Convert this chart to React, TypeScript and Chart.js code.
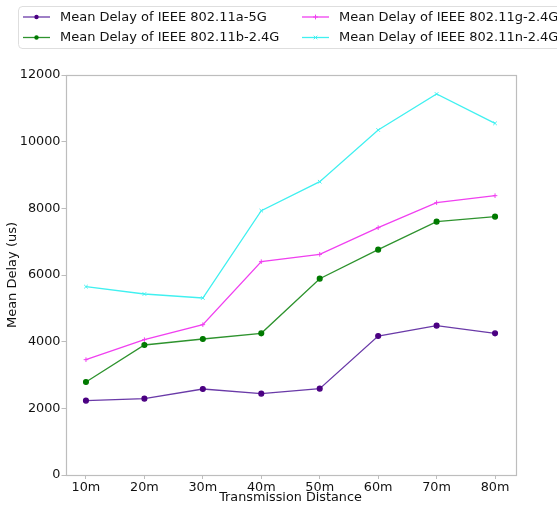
import React, { useEffect, useRef } from "react";
import { Chart, registerables } from "chart.js";

Chart.register(...registerables);

const categories = ["10m", "20m", "30m", "40m", "50m", "60m", "70m", "80m"];
const delayA5G = [2230, 2290, 2580, 2440, 2590, 4170, 4480, 4250];
const delayB24G = [2790, 3900, 4080, 4250, 5890, 6760, 7600, 7750];
const delayG24G = [3460, 4060, 4510, 6400, 6620, 7420, 8170, 8380];
const delayN24G = [5650, 5430, 5310, 7930, 8800, 10350, 11430, 10550];
const seriesLabels = [
  "Mean Delay of IEEE 802.11a-5G",
  "Mean Delay of IEEE 802.11b-2.4G",
  "Mean Delay of IEEE 802.11g-2.4G",
  "Mean Delay of IEEE 802.11n-2.4G",
];
const yTickValues = [0, 2000, 4000, 6000, 8000, 10000, 12000];
const xAxisTitle = "Transmission Distance";
const yAxisTitle = "Mean Delay (us)";

const FONT = "'DejaVu Sans', sans-serif";

function drawMarker(ctx: CanvasRenderingContext2D, style: string, x: number, y: number, r: number, color: string) {
  ctx.save();
  ctx.fillStyle = color;
  ctx.strokeStyle = color;
  ctx.lineWidth = 1;
  ctx.beginPath();
  if (style === "circle") {
    ctx.arc(x, y, r, 0, Math.PI * 2);
    ctx.fill();
  } else if (style === "cross") {
    ctx.moveTo(x - r, y);
    ctx.lineTo(x + r, y);
    ctx.moveTo(x, y - r);
    ctx.lineTo(x, y + r);
    ctx.stroke();
  } else {
    ctx.moveTo(x - r * 0.75, y - r * 0.75);
    ctx.lineTo(x + r * 0.75, y + r * 0.75);
    ctx.moveTo(x - r * 0.75, y + r * 0.75);
    ctx.lineTo(x + r * 0.75, y - r * 0.75);
    ctx.stroke();
  }
  ctx.restore();
}

const framePlugin = {
  id: "frameAndLegend",
  afterDraw(chart: any) {
    const ctx: CanvasRenderingContext2D = chart.ctx;
    const a = chart.chartArea;
    ctx.save();
    ctx.strokeStyle = "#bdbdbd";
    ctx.lineWidth = 1.2;
    ctx.strokeRect(Math.round(a.left) + 0.5, Math.round(a.top) + 0.5, Math.round(a.right - a.left), Math.round(a.bottom - a.top));

    // legend frame
    const bx = 18, by = 6, bw = 600, bh = 42, rr = 4;
    ctx.strokeStyle = "#dedede";
    ctx.lineWidth = 1;
    ctx.beginPath();
    ctx.moveTo(bx + rr, by + 0.5);
    ctx.lineTo(bx + bw, by + 0.5);
    ctx.moveTo(bx + rr, by + bh + 0.5);
    ctx.lineTo(bx + bw, by + bh + 0.5);
    ctx.moveTo(bx + 0.5, by + rr);
    ctx.lineTo(bx + 0.5, by + bh - rr);
    ctx.arc(bx + rr + 0.5, by + rr + 0.5, rr, Math.PI, Math.PI * 1.5);
    ctx.moveTo(bx + 0.5, by + bh - rr);
    ctx.arc(bx + rr + 0.5, by + bh - rr + 0.5, rr, Math.PI, Math.PI * 0.5, true);
    ctx.stroke();

    const colX = [23, 302];
    const rowY = [17, 37.5];
    chart.data.datasets.forEach((ds: any, i: number) => {
      const col = Math.floor(i / 2);
      const row = i % 2;
      const x = colX[col];
      const y = rowY[row];
      ctx.strokeStyle = ds.borderColor;
      ctx.lineWidth = 1.3;
      ctx.beginPath();
      ctx.moveTo(x, y);
      ctx.lineTo(x + 27, y);
      ctx.stroke();
      drawMarker(ctx, ds.pointStyle, x + 13.5, y, ds.pointStyle === "circle" ? 2.2 : 2.4, ds.pointBackgroundColor);
      ctx.fillStyle = "#111";
      ctx.font = `13px ${FONT}`;
      ctx.textBaseline = "middle";
      ctx.textAlign = "left";
      ctx.fillText(ds.label, x + 37, y + 0.5);
    });
    ctx.restore();
  },
};

export default function App() {
  const ref = useRef<HTMLCanvasElement | null>(null);
  useEffect(() => {
    if (!ref.current) return;
    const toPts = (arr: number[]) => arr.map((v, i) => ({ x: i, y: v }));
    const chart = new Chart(ref.current, {
      type: "line",
      data: {
        datasets: [
          {
            label: seriesLabels[0],
            data: toPts(delayA5G),
            borderColor: "#6a3aa8",
            backgroundColor: "#4b0082",
            pointBackgroundColor: "#4b0082",
            pointBorderColor: "#4b0082",
            pointStyle: "circle",
            pointRadius: 2.4,
            borderWidth: 1.3,
          },
          {
            label: seriesLabels[1],
            data: toPts(delayB24G),
            borderColor: "#2e932e",
            backgroundColor: "#007a00",
            pointBackgroundColor: "#007a00",
            pointBorderColor: "#007a00",
            pointStyle: "circle",
            pointRadius: 2.4,
            borderWidth: 1.3,
          },
          {
            label: seriesLabels[2],
            data: toPts(delayG24G),
            borderColor: "#f040f0",
            backgroundColor: "#f040f0",
            pointBackgroundColor: "#f040f0",
            pointBorderColor: "#f040f0",
            pointStyle: "cross",
            pointRadius: 2.3,
            pointBorderWidth: 1,
            borderWidth: 1.3,
          },
          {
            label: seriesLabels[3],
            data: toPts(delayN24G),
            borderColor: "#40f0f0",
            backgroundColor: "#40f0f0",
            pointBackgroundColor: "#40f0f0",
            pointBorderColor: "#40f0f0",
            pointStyle: "crossRot",
            pointRadius: 2.5,
            pointBorderWidth: 1,
            borderWidth: 1.3,
          },
        ],
      },
      options: {
        animation: false,
        responsive: false,
        maintainAspectRatio: false,
        layout: { padding: { top: 75, right: 41.5, left: 0, bottom: 0 } },
        plugins: { legend: { display: false }, tooltip: { enabled: false } },
        scales: {
          x: {
            type: "linear",
            min: -0.35,
            max: 7.35,
            afterBuildTicks: (s: any) => {
              s.ticks = categories.map((_, i) => ({ value: i }));
            },
            afterFit: (s: any) => {
              s.height = 30;
            },
            ticks: {
              callback: (v: any) => categories[v] ?? "",
              color: "#111",
              font: { family: FONT, size: 12.8 },
              padding: 1,
              maxRotation: 0,
              autoSkip: false,
            },
            grid: { drawOnChartArea: false, drawTicks: true, tickLength: 4, color: "#bdbdbd" },
            border: { display: false },
            title: {
              display: true,
              text: xAxisTitle,
              color: "#111",
              font: { family: FONT, size: 12.8 },
              padding: { top: 0, bottom: 0 },
            },
          },
          y: {
            min: 0,
            max: 12000,
            afterBuildTicks: (s: any) => {
              s.ticks = yTickValues.map((v) => ({ value: v }));
            },
            afterFit: (s: any) => {
              s.width = 65.5;
            },
            ticks: {
              color: "#111",
              font: { family: FONT, size: 12.8 },
              padding: 1,
              callback: (v: any) => String(v),
            },
            grid: { drawOnChartArea: false, drawTicks: true, tickLength: 4, color: "#bdbdbd" },
            border: { display: false },
            title: {
              display: true,
              text: yAxisTitle,
              color: "#111",
              font: { family: FONT, size: 13 },
              padding: { top: 5, bottom: 0 },
            },
          },
        },
      },
      plugins: [framePlugin],
    } as any);
    return () => chart.destroy();
  }, []);
  return (
    <div style={{ position: "absolute", left: 0, top: 0, width: 557, height: 505, background: "#fff" }}>
      <canvas ref={ref} width={557} height={505} style={{ display: "block" }} />
    </div>
  );
}
